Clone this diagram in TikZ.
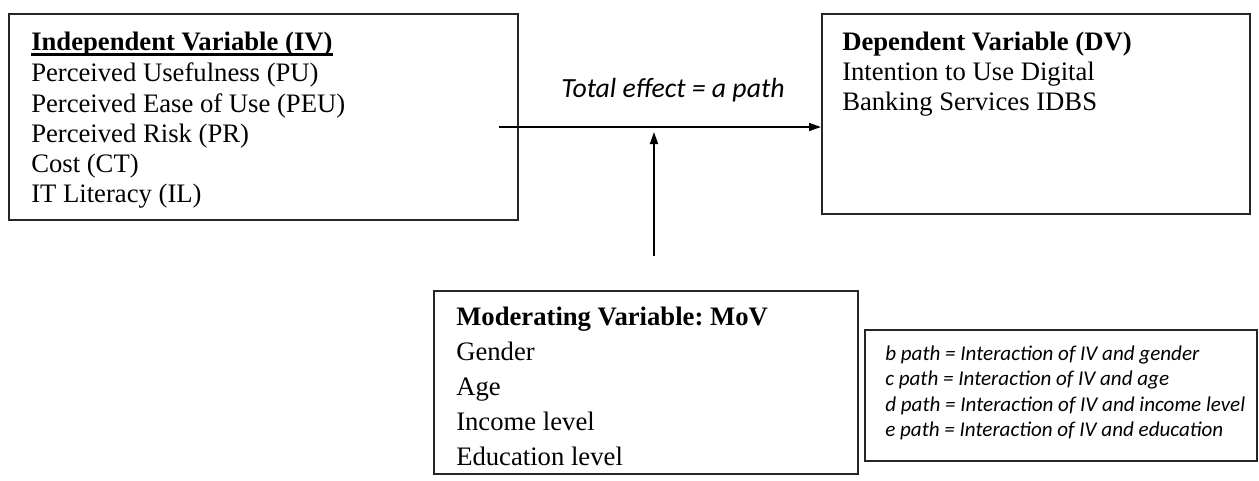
\documentclass[tikz,border=0pt]{standalone}
\usepackage{fontspec}
\setmainfont{Liberation Serif}
\newfontfamily\calib{Carlito}
\usetikzlibrary{fit,arrows.meta}
\frenchspacing
\begin{document}
\begin{tikzpicture}[x=0.75pt,y=-0.75pt,
  box/.style={draw=black!85, line width=1.5pt, inner sep=0pt},
  txt/.style={anchor=base west, inner sep=0pt, font=\fontsize{20}{24}\selectfont},
  leg/.style={anchor=base west, inner sep=0pt, font=\calib\itshape\fontsize{15.8}{19}\selectfont},
  lab/.style={anchor=base, inner sep=0pt, font=\calib\itshape\fontsize{20.8}{25}\selectfont},
  conn/.style={line width=1.1pt, -{Triangle[length=9pt,width=6pt]}},
  uline/.style={line width=1.6pt}]
\useasboundingbox (0,0) rectangle (1259,480);
% boxes
\node[box, fit={(9,14) (518,220)}] (iv) {};
\node[box, fit={(822,14) (1250,214)}] (dv) {};
\node[box, fit={(434,291) (858,474)}] (mov) {};
\node[box, fit={(865,330) (1257,461)}] (legend) {};
% IV text
\node[txt] (ivt) at (31,50) {\textbf{Independent Variable (IV)}};
\draw[uline] ([yshift=-3.4pt]ivt.base west) -- ([yshift=-3.4pt]ivt.base east);
\node[txt] (iv1) at (31,81) {Perceived Usefulness (PU)};
\node[txt] (iv2) at (31,112) {Perceived Ease of Use (PEU)};
\node[txt] (iv3) at (31,142) {Perceived Risk (PR)};
\node[txt] (iv4) at (31,172) {Cost (CT)};
\node[txt] (iv5) at (31,202) {IT Literacy (IL)};
% DV text
\node[txt] (dvt) at (842,50) {\textbf{Dependent Variable (DV)}};
\node[txt] (dv1) at (842,80) {Intention to Use Digital};
\node[txt] (dv2) at (842,110) {Banking Services IDBS};
% MoV text
\node[txt] (movt) at (456,325) {\textbf{Moderating Variable: MoV}};
\node[txt] (mov1) at (456,360) {Gender};
\node[txt] (mov2) at (456,395) {Age};
\node[txt] (mov3) at (456,430) {Income level};
\node[txt] (mov4) at (456,465) {Education level};
% legend text
\node[leg] (l1) at (885,360) {b path = Interaction of IV and gender};
\node[leg] (l2) at (885,385.5) {c path = Interaction of IV and age};
\node[leg] (l3) at (885,411) {d path = Interaction of IV and income level};
\node[leg] (l4) at (885,436.5) {e path = Interaction of IV and education};
% label
\node[lab] (total) at (673,97) {Total effect = a path};
% connectors
\coordinate (hs) at (499,127);
\coordinate (vs) at (654,256);
\coordinate (ve) at (654,132);
\draw[conn] (hs) -- (hs -| dv.west);
\draw[conn] (vs) -- (ve);
\end{tikzpicture}
\end{document}
